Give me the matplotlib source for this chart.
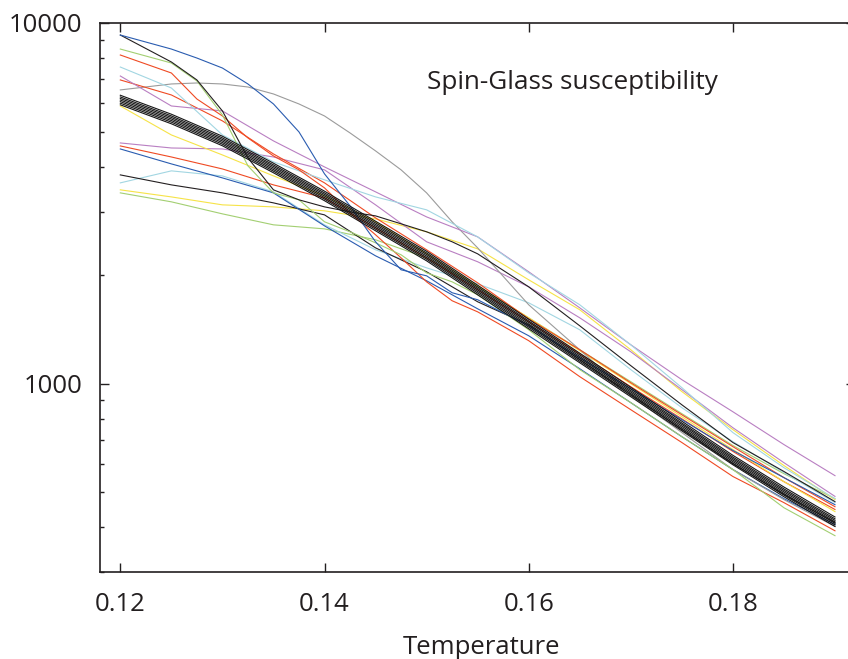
import matplotlib
matplotlib.use("Agg")
import matplotlib.pyplot as plt
from matplotlib.ticker import LogLocator, NullFormatter

plt.rcParams['font.family'] = ['Open Sans', 'DejaVu Sans']

# ---------------- data ----------------
temperature = [0.120, 0.125, 0.130, 0.135, 0.140, 0.145, 0.150, 0.155,
               0.160, 0.165, 0.170, 0.175, 0.180, 0.185, 0.190]
# finer sampling used for the curves that bend sharply at low temperature
temperature_fine = [0.120, 0.125, 0.1275, 0.130, 0.1325, 0.135, 0.1375, 0.140,
                    0.1425, 0.145, 0.1475, 0.150, 0.1525, 0.155,
                    0.160, 0.165, 0.170, 0.175, 0.180, 0.185, 0.190]

chi_blue_a   = [9261, 8468, 7996, 7502, 6775, 5964, 4989, 3817, 3112, 2474, 2069, 1991, 1787, 1709,
                1447, 1180, 968, 795, 653, 549, 462]
chi_black_a  = [9261, 7797, 6952, 5704, 4225, 3447, 3234, 3092, 2995, 2919, 2775, 2637, 2474, 2291,
                1856, 1447, 1122, 874, 687, 571, 471]
chi_green_a  = [8468, 7747, 6908, 5560, 4016, 3381, 3234, 2811, 2637, 2458, 2277, 2029, 1916, 1764,
                1411, 1094, 886, 713, 578, 453, 379]
chi_red_a    = [8152, 7268, 6156, 5524, 4801, 4280, 3916, 3490, 2976, 2587, 2233, 1916, 1698, 1582,
                1316, 1046, 847, 687, 553, 468, 391]
chi_gray     = [6523, 6776, 6819, 6776, 6646, 6357, 5964, 5524, 4957, 4420, 3916, 3381, 2811, 2380,
                1655, 1242, 927, 732, 578, 477, 402]

chi_cyan_a   = [7550, 6604, 4894, 4121, 3674, 3295, 3034, 2553, 2029, 1655, 1282, 975, 732, 585, 480]
chi_purple_a = [7130, 5888, 5704, 4711, 3990, 3403, 2900, 2553, 2043, 1623, 1282, 1026, 836, 678, 556]
chi_red_b    = [6952, 6317, 5353, 4335, 3604, 2882, 2351, 1904, 1513, 1242, 1006, 820, 669, 549, 456]
chi_yellow_a = [5888, 4894, 4307, 3768, 3317, 2811, 2291, 1868, 1523, 1234, 1000, 810, 657, 535, 442]
chi_purple_b = [4650, 4503, 4475, 4252, 3916, 3132, 2474, 2178, 1856, 1523, 1226, 963, 755, 604, 487]
chi_red_c    = [4562, 4252, 3939, 3558, 3274, 2704, 2233, 1822, 1485, 1210, 981, 799, 649, 535, 448]
chi_blue_b   = [4475, 4068, 3720, 3381, 2739, 2262, 1929, 1613, 1358, 1100, 886, 713, 578, 480, 407]
chi_black_b  = [3792, 3558, 3381, 3172, 2938, 2380, 2043, 1687, 1456, 1166, 933, 746, 600, 493, 412]
chi_cyan_b   = [3604, 3891, 3768, 3403, 2757, 2351, 2095, 1892, 1676, 1411, 1094, 858, 691, 567, 468]
chi_yellow_b = [3447, 3295, 3132, 3092, 3015, 2863, 2637, 2365, 1941, 1603, 1242, 951, 746, 593, 477]
chi_green_b  = [3381, 3193, 2957, 2757, 2687, 2506, 2233, 1856, 1523, 1242, 1013, 826, 674, 563, 480]

# bundle of black reference curves
bundle_1 = [5932, 5255, 4567, 3844, 3216, 2654, 2191, 1764, 1420, 1143, 920, 740, 596, 486, 402]
bundle_2 = [5993, 5310, 4614, 3884, 3249, 2681, 2214, 1783, 1435, 1154, 929, 748, 602, 491, 406]
bundle_3 = [6054, 5364, 4661, 3923, 3282, 2709, 2236, 1801, 1449, 1166, 939, 755, 608, 496, 410]
bundle_4 = [6115, 5418, 4708, 3963, 3315, 2736, 2259, 1819, 1464, 1178, 948, 763, 614, 501, 414]
bundle_5 = [6176, 5472, 4755, 4003, 3348, 2763, 2282, 1837, 1479, 1190, 957, 771, 620, 506, 418]
bundle_6 = [6237, 5526, 4802, 4042, 3381, 2791, 2304, 1855, 1493, 1202, 967, 778, 626, 511, 422]
bundle_7 = [6305, 5586, 4854, 4086, 3418, 2821, 2329, 1875, 1509, 1215, 977, 787, 633, 517, 427]

x_ticks = [0.12, 0.14, 0.16, 0.18]
x_tick_labels = ["0.12", "0.14", "0.16", "0.18"]
y_ticks = [1000, 10000]
y_tick_labels = ["1000", "10000"]

title_text = "Spin-Glass susceptibility"
x_label = "Temperature"

# ---------------- style ----------------
BLUE = '#2a5cb0'
GREEN = '#a3cf72'
RED = '#ef4a23'
CYAN = '#a2d6e2'
PURPLE = '#b97fc2'
GRAY = '#9b9b9b'
YELLOW = '#f6e347'
BLACK = '#231f20'

series = [
    (temperature, chi_green_b, GREEN), (temperature, chi_yellow_b, YELLOW),
    (temperature, chi_cyan_b, CYAN), (temperature, chi_black_b, BLACK),
    (temperature, chi_blue_b, BLUE), (temperature, chi_red_c, RED),
    (temperature, chi_purple_b, PURPLE), (temperature, chi_yellow_a, YELLOW),
    (temperature_fine, chi_gray, GRAY), (temperature, chi_red_b, RED),
    (temperature, chi_purple_a, PURPLE), (temperature, chi_cyan_a, CYAN),
    (temperature_fine, chi_red_a, RED), (temperature_fine, chi_green_a, GREEN),
    (temperature_fine, chi_black_a, BLACK), (temperature_fine, chi_blue_a, BLUE),
]
bundle = [bundle_1, bundle_2, bundle_3, bundle_4, bundle_5, bundle_6, bundle_7]

W, H = 848, 659
fig = plt.figure(figsize=(W / 100, H / 100), dpi=100)
ax_left, ax_right, ax_top, ax_bottom = 100, 855, 23, 572.3
ax = fig.add_axes([ax_left / W, 1 - ax_bottom / H,
                   (ax_right - ax_left) / W, (ax_bottom - ax_top) / H])

for tx, vals, col in series:
    ax.plot(tx, vals, color=col, lw=0.8, solid_joinstyle='round')
for vals in bundle:
    ax.plot(temperature, vals, color='#151515', lw=0.8, solid_joinstyle='round')

ax.set_yscale('log')
ax.set_xlim(0.11801, 0.19196)
ax.set_ylim(300, 10000)

ax.set_xticks(x_ticks)
ax.set_xticklabels(x_tick_labels)
ax.set_yticks(y_ticks)
ax.set_yticklabels(y_tick_labels)
ax.yaxis.set_minor_locator(LogLocator(base=10, subs=[2, 3, 4, 5, 6, 7, 8, 9]))
ax.yaxis.set_minor_formatter(NullFormatter())

ax.tick_params(which='both', direction='in', top=True, right=True,
               color=BLACK, labelcolor=BLACK, labelsize=18.5)
ax.tick_params(which='major', length=6.2, width=1.0)
ax.tick_params(which='minor', length=3.0, width=1.0)
ax.tick_params(axis='x', pad=14)
ax.tick_params(axis='y', pad=12.5)

for sp in ax.spines.values():
    sp.set_linewidth(1.2)
    sp.set_color(BLACK)

ax.text((427 - ax_left) / (ax_right - ax_left), (ax_bottom - 89.3) / (ax_bottom - ax_top),
        title_text, transform=ax.transAxes, ha='left', va='baseline',
        fontsize=18.8, color=BLACK)

fig.text(481.7 / W, 1 - 654.3 / H, x_label, ha='center', va='baseline',
         fontsize=18.5, color=BLACK)

fig.savefig('out.png', dpi=100)
